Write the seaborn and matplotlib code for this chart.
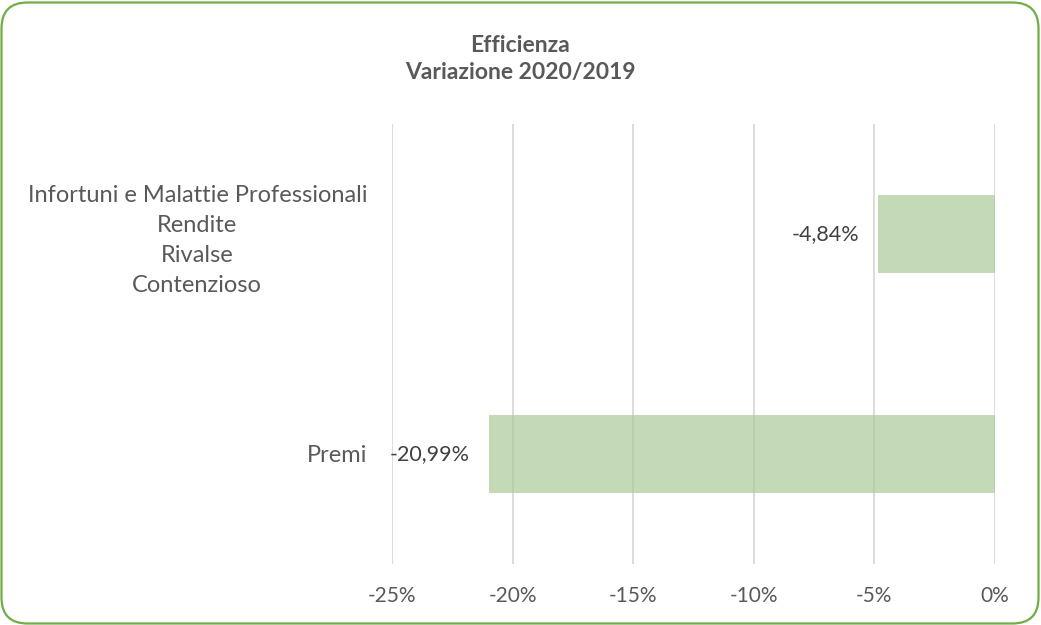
import matplotlib
matplotlib.use("Agg")
import matplotlib.pyplot as plt
from matplotlib.patches import FancyBboxPatch
from matplotlib.ticker import FuncFormatter, MultipleLocator
from matplotlib.transforms import IdentityTransform
import seaborn as sns
import pandas as pd

# ---- data ----
categories = [
    "Infortuni e Malattie Professionali\nRendite\nRivalse\nContenzioso",
    "Premi",
]
values = [-0.0484, -0.2099]
title_lines = ["Efficienza", "Variazione 2020/2019"]

df = pd.DataFrame({"categoria": categories, "variazione": values})

sns.set_theme(style="white")
plt.rcParams["font.family"] = ["Lato", "DejaVu Sans"]

W, H = 1041, 625
fig = plt.figure(figsize=(W / 100, H / 100), dpi=100)
ax = fig.add_axes([392 / W, (H - 564) / H, 603 / W, 440 / H])

sns.barplot(data=df, x="variazione", y="categoria", orient="h",
            color="#A9D18E", alpha=0.7, width=0.355, ax=ax,
            edgecolor="none", linewidth=0)

ax.set_xlim(-0.25, 0)
ax.xaxis.set_major_locator(MultipleLocator(0.05))
ax.xaxis.set_major_formatter(FuncFormatter(lambda v, p: f"{round(v * 100):d}%"))
ax.set_xlabel("")
ax.set_ylabel("")
ax.grid(axis="x", color="#D9D9D9", linewidth=1.3)
ax.set_axisbelow(True)
for s in ax.spines.values():
    s.set_visible(False)

ax.tick_params(axis="y", length=0, pad=18, labelsize=17, labelcolor="#595959")
ax.tick_params(axis="x", length=0, pad=16, labelsize=15, labelcolor="#595959")
for lbl in ax.get_yticklabels():
    lbl.set_multialignment("center")
    lbl.set_linespacing(1.54)

labels = [f"{v * 100:.2f}%".replace(".", ",") for v in values]
ax.bar_label(ax.containers[0], labels=labels, padding=14, fontsize=15.5,
             color="#404040")

fig.text(520.5 / W, 1 - 59 / H, "\n".join(title_lines), ha="center", va="center",
         multialignment="center", fontsize=16.5, fontweight="bold",
         color="#595959", linespacing=1.38)

border = FancyBboxPatch((1.5, 1.5), W - 4, H - 4,
                        boxstyle="round,pad=0,rounding_size=26",
                        transform=IdentityTransform(), fill=False,
                        edgecolor="#70AD47", linewidth=1.6)
fig.patches.append(border)

fig.savefig("out.png", dpi=100)
